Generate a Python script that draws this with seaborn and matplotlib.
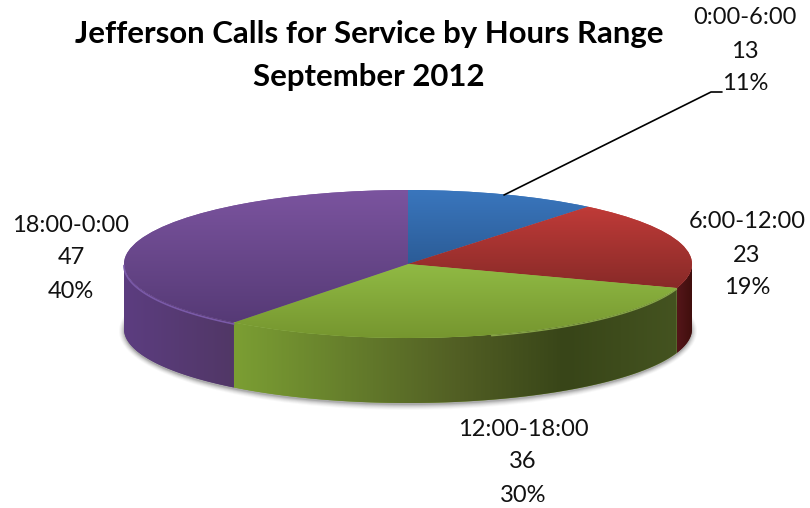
import numpy as np
import matplotlib
matplotlib.use('Agg')
import matplotlib.pyplot as plt
import seaborn as sns
from matplotlib.patches import Ellipse

hours = ['0:00-6:00', '6:00-12:00', '12:00-18:00', '18:00-0:00']
calls = [13, 23, 36, 47]
percents = ['11%', '19%', '30%', '40%']

# top face colours, light to dark going down
top_colors = [['#3A76BD', '#2B5C97'], ['#C03B38', '#882A28'],
              ['#90BA44', '#76962F'], ['#7B549F', '#563A76']]
# side wall colours, left to right
wall_colors = [['#2B5C97', '#2B5C97'], ['#55161A', '#3F0E0C'],
               ['#7B9E33', '#667F2C', '#525F24', '#384518', '#445320'], ['#5C3D80', '#513766']]
# label centres in pixels
label_pos = [(745, 18), (747, 222), (523, 429), (71, 225)]

W, H = 810, 508
cx, cy, rx, ry, depth = 408, 264, 284, 74, 65
d = depth / ry

sns.set_theme(style='white')
plt.rcParams['font.family'] = ['Lato', 'DejaVu Sans']

fig = plt.figure(figsize=(W / 100, H / 100), dpi=100)
ax = fig.add_axes([0, 0, 1, 1])

wedges, _ = ax.pie(calls, startangle=90, counterclock=False, colors=[c[0] for c in top_colors],
                   radius=1, center=(0, 0), wedgeprops={'linewidth': 0})
ax.set_aspect('auto')

# soft shadow under the pie
for grow, alpha in zip([5, 4, 3, 2, 1, 0], [0.04, 0.06, 0.08, 0.10, 0.14, 0.2]):
    ax.add_patch(Ellipse((0, -d - 2 / ry), 2 * (rx + grow) / rx, 2 * (ry + grow) / ry,
                         facecolor='#555555', edgecolor='none', alpha=alpha, zorder=0.5))

for i, w in enumerate(wedges):
    w.set_zorder(3)
    # top face gradient
    ext = w.get_path().get_extents()
    cmap = sns.blend_palette(top_colors[i], as_cmap=True)
    im = ax.imshow(np.linspace(0, 1, 200).reshape(-1, 1), cmap=cmap, aspect='auto', zorder=3.5,
                   extent=[-1, 1, ext.y0, ext.y1], interpolation='bilinear')
    im.set_clip_path(w)

    # side wall, only the part facing the viewer
    t0, t1 = max(w.theta1, -180), min(w.theta2, 0)
    if t1 <= t0:
        continue
    t = np.radians(np.linspace(t0, t1, 120))
    xs = np.cos(t)
    poly = ax.fill(np.r_[xs, xs[::-1]], np.r_[np.sin(t), np.sin(t)[::-1] - d],
                   color=wall_colors[i][0], linewidth=0, zorder=2)[0]
    cmap = sns.blend_palette(wall_colors[i], as_cmap=True)
    im = ax.imshow(np.linspace(0, 1, 200).reshape(1, -1), cmap=cmap, aspect='auto', zorder=2.5,
                   extent=[xs.min(), xs.max(), -1 - d, 1], interpolation='bilinear')
    im.set_clip_path(poly)

    # light bevel along the front rim
    if i == 3:
        ax.plot(xs, np.sin(t) - 1.5 / ry, color='#7A5AA8', lw=1.2, zorder=4)
    if i == 2:
        n = 60
        ax.plot(xs[-n:], np.sin(t)[-n:] - 1 / ry, color='#A4C85A', lw=1, alpha=0.7, zorder=4)

ax.set_xlim(-cx / rx, (W - cx) / rx)
ax.set_ylim(-(H - cy) / ry, cy / ry)
ax.axis('off')

# leader line for the first slice
fig.add_artist(plt.Line2D(np.array([504, 711, 722]) / W, 1 - np.array([195, 92, 92]) / H,
                          color='black', lw=1.2))

fig.text(369 / W, 1 - 34 / H, 'Jefferson Calls for Service by Hours Range', fontsize=22.4,
         fontweight='bold', color='black', ha='center', va='center')
fig.text(369 / W, 1 - 77 / H, 'September 2012', fontsize=22.4,
         fontweight='bold', color='black', ha='center', va='center')

for (x, y), h, c, p in zip(label_pos, hours, calls, percents):
    for k, s in enumerate([h, str(c), p]):
        fig.text(x / W, 1 - (y + 33 * k) / H, s, fontsize=17, color='#111111',
                 ha='center', va='center')

fig.savefig('out.png', dpi=100, facecolor='white')
